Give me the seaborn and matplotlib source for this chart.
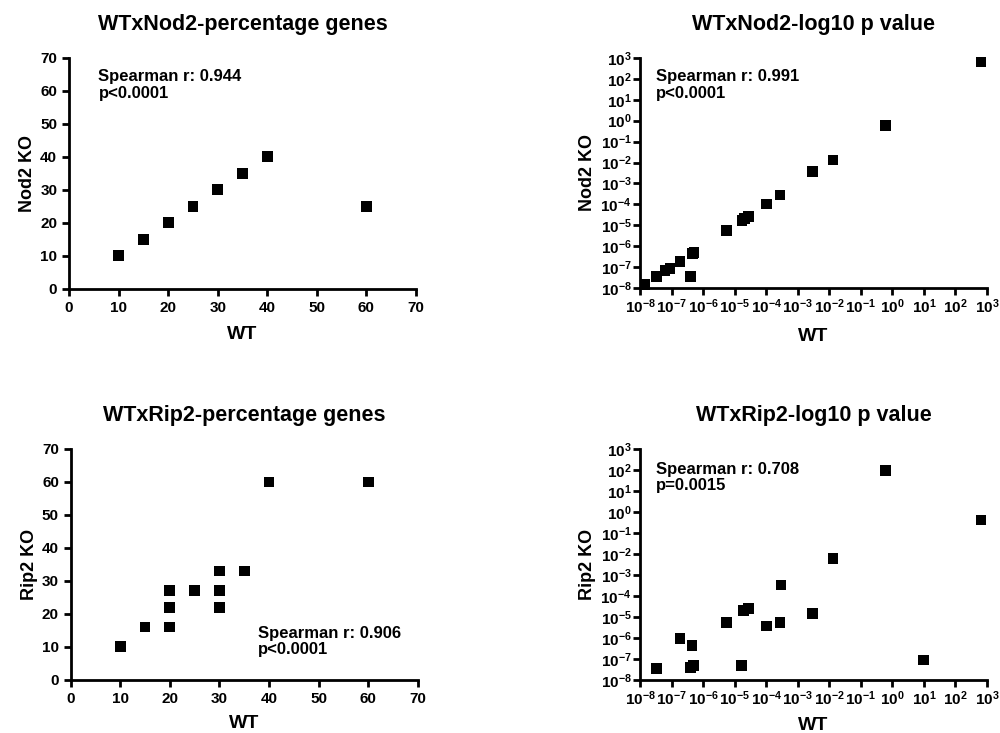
import numpy as np
import pandas as pd
import matplotlib
matplotlib.use("Agg")
import matplotlib.pyplot as plt
import matplotlib.ticker as mticker
import seaborn as sns

# --- data ---
nod2_pct_wt = [10, 15, 20, 25, 30, 35, 40, 60]
nod2_pct_ko = [10, 15, 20, 25, 30, 35, 40, 25]

rip2_pct_wt = [10, 15, 20, 20, 20, 25, 30, 30, 30, 35, 40, 60]
rip2_pct_ko = [10, 16, 16, 22, 27, 27, 22, 27, 33, 33, 60, 60]

# log10 of the p values (exponents)
nod2_log_wt = [-7.84, -7.47, -7.21, -7.05, -6.73, -6.41, -6.34, -6.29, -5.25,
               -4.77, -4.69, -4.56, -3.98, -3.56, -2.53, -1.88, -0.22, 2.81]
nod2_log_ko = [-7.84, -7.44, -7.16, -7.05, -6.73, -7.44, -6.33, -6.30, -5.25,
               -4.77, -4.66, -4.58, -3.98, -3.55, -2.44, -1.88, -0.24, 2.81]

rip2_log_wt = [-7.47, -6.73, -6.41, -6.35, -6.31, -5.25, -4.79, -4.72, -4.56,
               -3.98, -3.56, -3.53, -2.53, -1.88, -0.22, 0.99, 2.81]
rip2_log_ko = [-7.46, -6.02, -7.40, -6.37, -7.32, -5.25, -7.33, -4.70, -4.59,
               -5.43, -5.27, -3.48, -4.83, -2.21, 1.97, -7.05, -0.38]

titles = ["WTxNod2-percentage genes", "WTxNod2-log10 p value",
          "WTxRip2-percentage genes", "WTxRip2-log10 p value"]
ylabels = ["Nod2 KO", "Nod2 KO", "Rip2 KO", "Rip2 KO"]
stats = ["Spearman r: 0.944\np<0.0001", "Spearman r: 0.991\np<0.0001",
         "Spearman r: 0.906\np<0.0001", "Spearman r: 0.708\np=0.0015"]

sns.set_style("ticks")
plt.rcParams['font.family'] = ['Liberation Sans', 'DejaVu Sans']
plt.rcParams['font.weight'] = 'bold'
plt.rcParams['mathtext.fontset'] = 'custom'
plt.rcParams['mathtext.rm'] = 'Liberation Sans:bold'
plt.rcParams['mathtext.bf'] = 'Liberation Sans:bold'
# everything in pure black like the original
for key in ['text.color', 'axes.labelcolor', 'xtick.color', 'ytick.color', 'axes.edgecolor']:
    plt.rcParams[key] = 'black'

fig = plt.figure(figsize=(10, 7.33), dpi=100)
positions = [[0.069, 0.606, 0.347, 0.315],
             [0.640, 0.607, 0.347, 0.314],
             [0.0707, 0.0725, 0.347, 0.315],
             [0.640, 0.0725, 0.347, 0.315]]
axes = [fig.add_axes(p) for p in positions]

frames = [
    pd.DataFrame({"WT": nod2_pct_wt, "KO": nod2_pct_ko}),
    pd.DataFrame({"WT": 10.0 ** np.array(nod2_log_wt), "KO": 10.0 ** np.array(nod2_log_ko)}),
    pd.DataFrame({"WT": rip2_pct_wt, "KO": rip2_pct_ko}),
    pd.DataFrame({"WT": 10.0 ** np.array(rip2_log_wt), "KO": 10.0 ** np.array(rip2_log_ko)}),
]
text_pos = [(0.085, 0.95), (0.046, 0.95), (0.54, 0.235), (0.046, 0.945)]

def log_fmt(v, pos):
    e = int(round(np.log10(v)))
    return r'$\mathbf{10^{%d}}$' % e

for i, ax in enumerate(axes):
    df = frames[i]
    is_log = i in (1, 3)
    sns.scatterplot(data=df, x="WT", y="KO", ax=ax, marker='s', s=60,
                    color='black', edgecolor='none', clip_on=False, legend=False)
    if is_log:
        ax.set_xscale('log')
        ax.set_yscale('log')
        ax.set_xlim(1e-8, 1e3)
        ax.set_ylim(1e-8, 1e3)
        ticks = [10.0 ** k for k in range(-8, 4)]
        ax.set_xticks(ticks)
        ax.set_yticks(ticks)
        ax.xaxis.set_minor_locator(mticker.NullLocator())
        ax.yaxis.set_minor_locator(mticker.NullLocator())
        ax.xaxis.set_major_formatter(mticker.FuncFormatter(log_fmt))
        ax.yaxis.set_major_formatter(mticker.FuncFormatter(log_fmt))
        ax.tick_params(axis='x', pad=2, labelsize=11)
        ax.tick_params(axis='y', pad=1, labelsize=11)
    else:
        ax.set_xlim(0, 70)
        ax.set_ylim(0, 70)
        ax.set_xticks(range(0, 71, 10))
        ax.set_yticks(range(0, 71, 10))
        ax.tick_params(labelsize=11)
    sns.despine(ax=ax)
    for sp in ['left', 'bottom']:
        ax.spines[sp].set_linewidth(2)
        ax.spines[sp].set_color('black')
    ax.tick_params(direction='out', length=5, width=2, color='black')
    for lab in ax.get_xticklabels() + ax.get_yticklabels():
        lab.set_fontweight('bold')
    ax.set_xlabel("WT", fontsize=14, fontweight='bold', labelpad=8 if i < 2 else 6.5)
    ax.set_ylabel(ylabels[i], fontsize=13, fontweight='bold', labelpad=3)
    ax.set_title(titles[i], fontsize=15.5, fontweight='bold', pad=20)
    ax.text(text_pos[i][0], text_pos[i][1], stats[i], transform=ax.transAxes,
            ha='left', va='top', fontsize=12, fontweight='bold', linespacing=1.1)

fig.savefig("out.png", dpi=100)
